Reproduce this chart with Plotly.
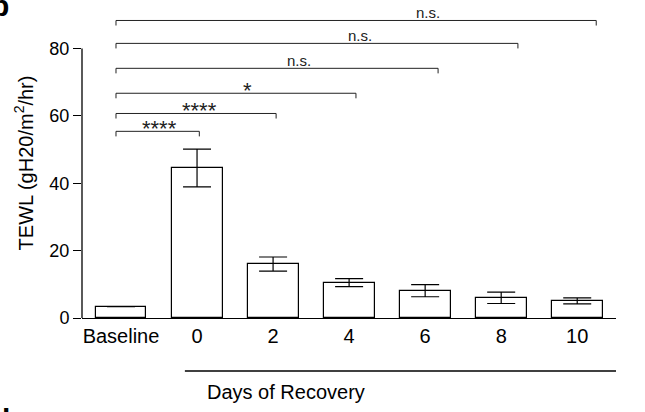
import plotly.graph_objects as go

# ---- data ----
categories = ["Baseline", "0", "2", "4", "6", "8", "10"]
means = [3.4, 44.5, 16.0, 10.5, 8.1, 6.0, 5.1]
sem = [0, 5.6, 2.1, 1.2, 1.8, 1.7, 0.9]

# significance comparisons vs Baseline
sig_labels = ["****", "****", "*", "n.s.", "n.s.", "n.s."]
sig_right = [1.03, 2.04, 3.09, 4.17, 5.22, 6.25]
sig_height = [55.4, 60.7, 66.7, 74.1, 81.5, 88.3]
sig_text_x = [0.5, 1.03, 1.66, 2.34, 3.14, 4.04]
sig_left = -0.066

y_ticks = [0, 20, 40, 60, 80]

FONT = "Liberation Sans, Arial, sans-serif"
xpos = list(range(len(categories)))

fig = go.Figure()
fig.add_trace(go.Bar(
    x=xpos, y=means, width=0.67,
    marker=dict(color="white", line=dict(color="black", width=1.2)),
    error_y=dict(type="data", array=sem, visible=True, color="black",
                 thickness=1.2, width=14),
    showlegend=False,
))

shapes = []
annotations = []
# y-axis line from 0 to 80
shapes.append(dict(type="line", xref="paper", yref="y", x0=0, x1=0,
                   y0=0, y1=y_ticks[-1], line=dict(color="black", width=1.3)))
# significance brackets
for lab, xr, h, tx in zip(sig_labels, sig_right, sig_height, sig_text_x):
    shapes.append(dict(type="path", xref="x", yref="y",
                       path=f"M {sig_left} {h-1.5} L {sig_left} {h} L {xr} {h} L {xr} {h-1.5}",
                       line=dict(color="#222", width=1)))
    is_star = "*" in lab
    annotations.append(dict(
        x=tx, y=h, xref="x", yref="y", text=lab, showarrow=False,
        xanchor="center", yanchor="bottom",
        yshift=(-12 if is_star else -3),
        font=dict(family=FONT, size=(22 if is_star else 15), color="#222")))

# "Days of Recovery" line and label
shapes.append(dict(type="line", xref="x", yref="paper", x0=0.84, x1=6.51,
                   y0=-0.171, y1=-0.171, line=dict(color="black", width=1.3)))
annotations.append(dict(x=2.17, y=-0.238, xref="x", yref="paper",
                        text="Days of Recovery", showarrow=False,
                        xanchor="center", yanchor="middle",
                        font=dict(family=FONT, size=20, color="black")))
# panel letters (partially cut off at the edges, as in the reference)
annotations.append(dict(x=0, y=1, xref="paper", yref="paper", text="<b>b</b>",
                        showarrow=False, xanchor="right", yanchor="bottom",
                        xshift=-71, yshift=-16,
                        font=dict(family=FONT, size=30, color="black")))
annotations.append(dict(x=0, y=0, xref="paper", yref="paper", text="<b>d</b>",
                        showarrow=False, xanchor="right", yanchor="top",
                        xshift=-70, yshift=-83,
                        font=dict(family=FONT, size=30, color="black")))

fig.update_layout(
    width=645, height=412,
    margin=dict(l=82, r=29, t=7.5, b=94),
    paper_bgcolor="white", plot_bgcolor="white",
    bargap=0,
    font=dict(family=FONT, color="black"),
    shapes=shapes, annotations=annotations,
    xaxis=dict(range=[-0.513, 6.51], tickvals=xpos, ticktext=categories,
               showline=True, linecolor="black", linewidth=1.3,
               ticks="", showgrid=False, zeroline=False, automargin=False,
               tickfont=dict(family=FONT, size=20, color="black")),
    yaxis=dict(range=[0, 92], tickvals=y_ticks, showline=False,
               ticks="outside", ticklen=8, tickwidth=1.3, tickcolor="black",
               showgrid=False, zeroline=False, automargin=False,
               tickfont=dict(family=FONT, size=18, color="black"),
               title=dict(text="TEWL (gH20/m<sup>2</sup>/hr)",
                          font=dict(family=FONT, size=20, color="black"),
                          standoff=10)),
)

fig.write_html("out.html",
               config={"displayModeBar": False},
               post_script="document.body.style.margin='0';document.body.style.overflow='hidden';")
